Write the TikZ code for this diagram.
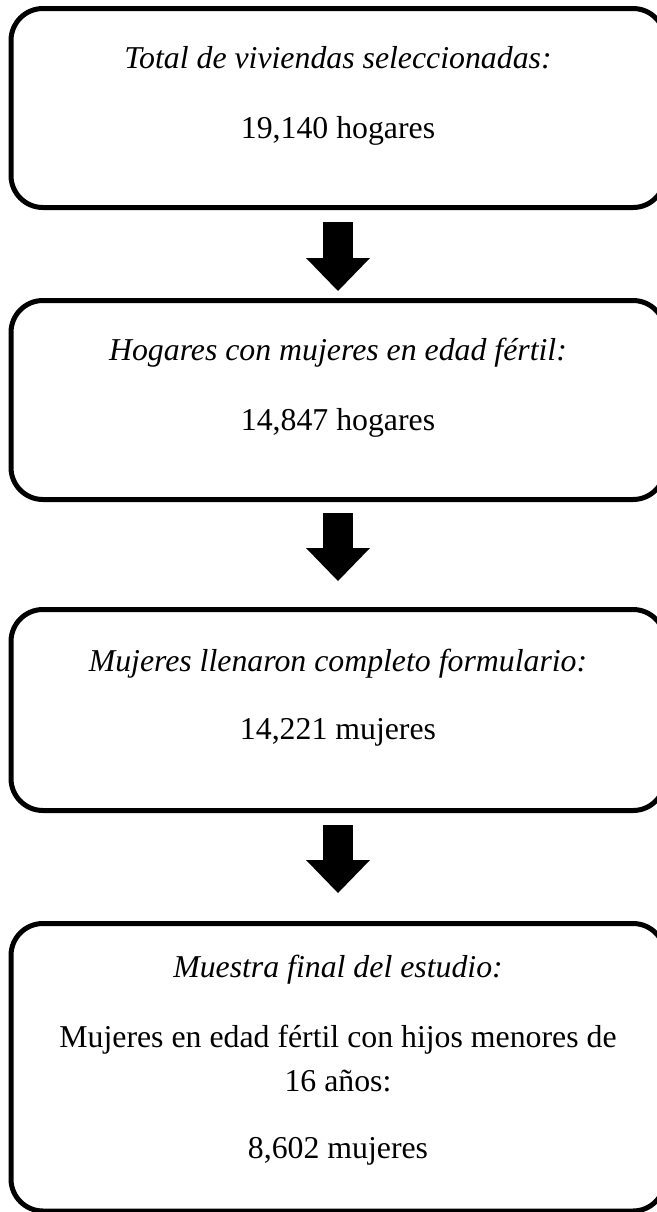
\documentclass[tikz,border=0pt]{standalone}
\usepackage{fontspec}
\setmainfont{Liberation Serif}
\usetikzlibrary{positioning,arrows.meta}
\newcommand\chartfont{\fontsize{15.9}{19}\selectfont}
\tikzset{
  panel/.style={draw, rounded corners=16pt, line width=2.5pt, minimum width=327pt},
  headline/.style={font=\chartfont\itshape, anchor=base, inner sep=0pt},
  countline/.style={font=\chartfont, anchor=base, inner sep=0pt},
  blockarrow/.style={-{Triangle[width=32pt, length=16.5pt, line width=0pt]}, line width=15pt}
}

\begin{document}
\begin{tikzpicture}[x=0.5pt, y=-0.5pt]
  \useasboundingbox (0,0) rectangle (657,1212);
  % boxes
  \node[panel, minimum height=99.5pt] (total) at (338,108) {};
  \node[panel, minimum height=99.5pt] (homes) at (338,400) {};
  \node[panel, minimum height=100.5pt] (forms) at (338,710) {};
  \node[panel, minimum height=143.75pt] (sample) at (338,1067.25) {};
  % texts
  \node[headline] (totalhead) at (338,68) {Total de viviendas seleccionadas:};
  \node[countline] (totalnum) at (338,138) {19,140 hogares};
  \node[headline] (homeshead) at (338,360) {Hogares con mujeres en edad fértil:};
  \node[countline] (homesnum) at (338,430) {14,847 hogares};
  \node[headline] (formshead) at (338,671) {Mujeres llenaron completo formulario:};
  \node[countline] (formsnum) at (338,739) {14,221 mujeres};
  \node[headline] (samplehead) at (338,977) {Muestra final del estudio:};
  \node[countline] (sampledesc) at (338,1047) {Mujeres en edad fértil con hijos menores de};
  \node[countline] (sampledesc2) at (338,1091) {16 años:};
  \node[countline] (samplenum) at (338,1158) {8,602 mujeres};
  % arrows
  \draw[blockarrow, shorten <=6pt, shorten >=3.5pt] (total) -- (homes);
  \draw[blockarrow, shorten <=5.5pt, shorten >=13pt] (homes) -- (forms);
  \draw[blockarrow, shorten <=6pt, shorten >=14pt] (forms) -- (sample);
\end{tikzpicture}
\end{document}
